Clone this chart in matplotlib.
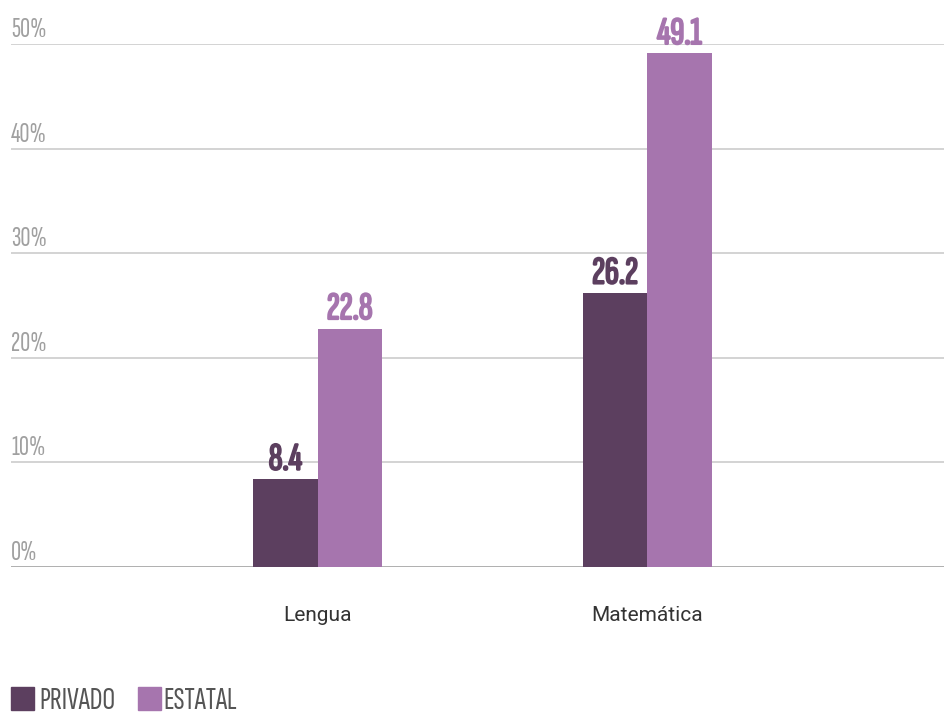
import matplotlib
matplotlib.use("Agg")
import matplotlib.pyplot as plt
import matplotlib.patheffects as pe
from matplotlib.patches import Rectangle

categories = ["Lengua", "Matemática"]
series_names = ["PRIVADO", "ESTATAL"]
privado = [8.4, 26.2]
estatal = [22.8, 49.1]
yticks = [0, 10, 20, 30, 40, 50]
ytick_labels = ["0%", "10%", "20%", "30%", "40%", "50%"]

colors = ["#5c3f5f", "#a675ae"]
COND = "Sofia Sans Extra Condensed"
REG = "Roboto"

fig = plt.figure(figsize=(9.44, 7.16), dpi=100)
ax = fig.add_axes([0.0117, 0.2081, 0.9883, 0.7304])

width = 0.195
x = list(range(len(categories)))
for i, (vals, col) in enumerate(zip([privado, estatal], colors)):
    pos = [xi + (i - 0.5) * width for xi in x]
    ax.bar(pos, vals, width=width, color=col, align="center", zorder=3)
    for p, v in zip(pos, vals):
        ax.annotate(f"{v:.1f}", (p, v), xytext=(0, 6.8), textcoords="offset points",
                    ha="center", va="baseline", family=COND, fontsize=28,
                    color=col, zorder=4,
                    path_effects=[pe.Stroke(linewidth=1.5, foreground=col), pe.Normal()])

ax.set_xlim(-0.93, 1.9)
ax.set_ylim(0, 50)
for t, lab in zip(yticks, ytick_labels):
    ax.axhline(t, color="#9a9a9a" if t == 0 else "#c8c8c8", lw=1.1, zorder=1)
    ax.annotate(lab, (0, t), xycoords=("axes fraction", "data"),
                xytext=(0, 5), textcoords="offset points",
                ha="left", va="baseline", family=COND, fontsize=20, color="#a0a0a0")

ax.set_xticks([])
ax.set_yticks([])
for s in ax.spines.values():
    s.set_visible(False)

for xi, c in zip(x, categories):
    ax.annotate(c, (xi, 0), xytext=(0, -38.9), textcoords="offset points",
                ha="center", va="baseline", family=REG, fontsize=15,
                color="#333333", annotation_clip=False)

# legend along the bottom edge
W, H = 944, 716
for name, col, px, tx in zip(series_names, colors, [11, 138], [39, 163]):
    fig.patches.append(Rectangle((px / W, 6 / H), 23 / W, 23 / H,
                                 transform=fig.transFigure, color=col))
    fig.text(tx / W, 7 / H, name, family=COND, fontsize=23,
             color="#555555", ha="left", va="baseline")

fig.savefig("out.png", dpi=100)
